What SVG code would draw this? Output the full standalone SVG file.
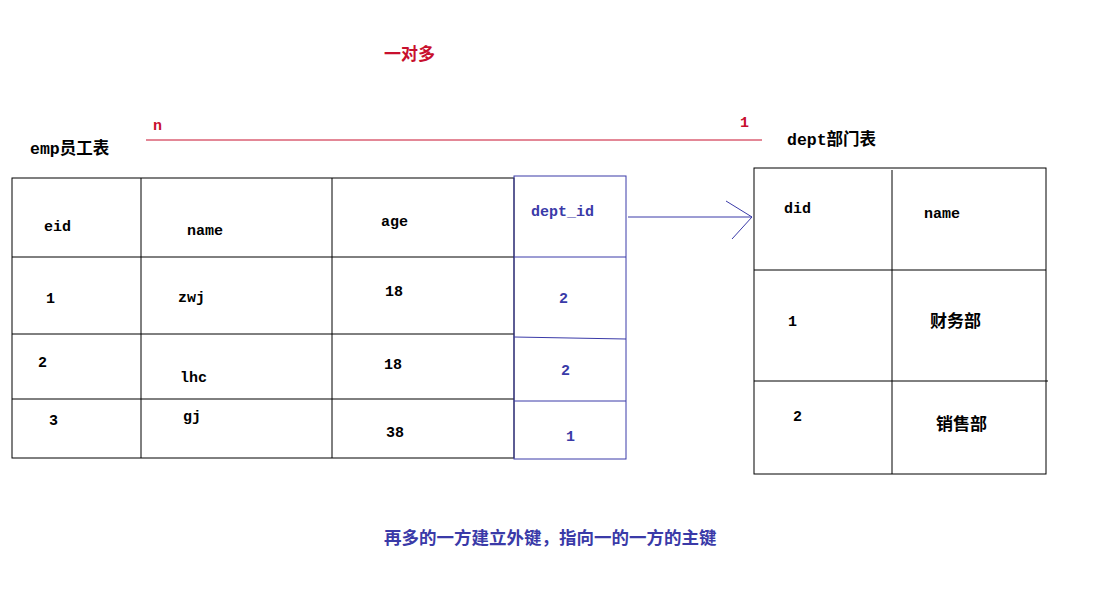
<svg xmlns="http://www.w3.org/2000/svg" width="1093" height="600" viewBox="0 0 1093 600">
<style>
text{font-family:"Liberation Mono","Noto Sans CJK SC",monospace;font-size:15px;font-weight:bold}
.k{fill:#000}.b{fill:#3a3aa8}.r{fill:#c8102e}
.t{font-size:16.5px}
.c{font-family:"Noto Sans CJK SC",sans-serif;font-size:17.5px}
.lk{stroke:#000;stroke-width:1;fill:none}.lb{stroke:#3a3aa8;stroke-width:1;fill:none}
</style>
<rect width="1093" height="600" fill="#fff"/>
<text x="384" y="60" class="r c" style="font-size:17px">一对多</text>
<text x="30" y="154" class="k t">emp员工表</text>
<text x="787" y="145" class="k t">dept部门表</text>
<g id="relation">
<text x="153" y="130" class="r">n</text>
<text x="740" y="127" class="r">1</text>
<line x1="146" y1="140" x2="762" y2="140" stroke="#c8102e"/>
</g>
<g id="emp">
<rect x="12" y="178" width="502" height="280" class="lk"/>
<line x1="141" y1="178" x2="141" y2="458" class="lk"/>
<line x1="332" y1="178" x2="332" y2="458" class="lk"/>
<line x1="12" y1="257" x2="514" y2="257" class="lk"/>
<line x1="12" y1="334" x2="514" y2="334" class="lk"/>
<line x1="12" y1="399" x2="514" y2="399" class="lk"/>
<text x="44" y="231" class="k">eid</text><text x="187" y="235" class="k">name</text><text x="381" y="226" class="k">age</text>
<text x="46" y="303" class="k">1</text><text x="178" y="302" class="k">zwj</text><text x="385" y="296" class="k">18</text>
<text x="38" y="367" class="k">2</text><text x="180" y="382" class="k">lhc</text><text x="384" y="369" class="k">18</text>
<text x="49" y="425" class="k">3</text><text x="183" y="421" class="k">gj</text><text x="386" y="437" class="k">38</text>
</g>
<g id="dept_id">
<rect x="514" y="176" width="112" height="283" class="lb"/>
<line x1="514" y1="257" x2="626" y2="257" class="lb"/>
<line x1="514" y1="337" x2="626" y2="339" class="lb"/>
<line x1="514" y1="401" x2="626" y2="401" class="lb"/>
<text x="531" y="216" class="b">dept_id</text>
<text x="559" y="303" class="b">2</text>
<text x="561" y="375" class="b">2</text>
<text x="566" y="441" class="b">1</text>
</g>
<g id="dept">
<rect x="754" y="168" width="292" height="306" class="lk"/>
<line x1="892" y1="170" x2="892" y2="474" class="lk"/>
<line x1="754" y1="270" x2="1046" y2="270" class="lk"/>
<line x1="754" y1="381" x2="1048" y2="381" class="lk"/>
<text x="784" y="213" class="k">did</text><text x="924" y="218" class="k">name</text>
<text x="788" y="326" class="k">1</text><text x="930" y="327" class="k c" style="font-size:17px">财务部</text>
<text x="793" y="421" class="k">2</text><text x="936" y="430" class="k c" style="font-size:17px">销售部</text>
</g>
<g id="connectors">
<line x1="628" y1="217" x2="752" y2="217" class="lb"/>
<polyline points="726,201 752,217 732,239" class="lb"/>
</g>
<text x="384" y="544" class="b c">再多的一方建立外键，指向一的一方的主键</text>
</svg>
